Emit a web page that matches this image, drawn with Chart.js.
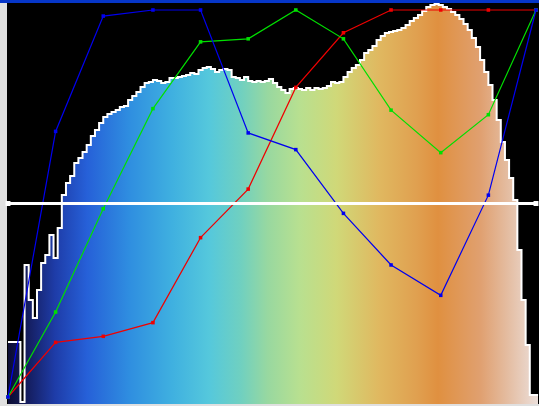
<!DOCTYPE html>
<html>
<head>
<meta charset="utf-8">
<script src="https://cdn.jsdelivr.net/npm/chart.js@4"></script>
<style>
  html, body { margin: 0; padding: 0; background: #e0e0e0; }
  #wrap { width: 539px; height: 406px; }
</style>
</head>
<body>
<div id="wrap"><canvas id="curveChart" width="539" height="406"></canvas></div>
<script>
// Curve control points (input level -> output level, 0..255)
const curveInputs = [0, 23, 46, 70, 93, 116, 139, 162, 185, 209, 232, 255];
const blueCurve  = [0, 175, 251, 255, 255, 174, 163, 121, 87, 67, 133, 255];
const greenCurve = [0, 56, 124, 190, 234, 236, 255, 236, 189, 161, 186, 255];
const redCurve   = [0, 36, 40, 49, 105, 137, 204, 240, 255, 255, 255, 255];

// Midtone guide line
const guideInputs = [0, 255];
const guideLevels = [127.5, 127.5];

// Luminance histogram, 128 bins of width 2 (relative counts)
const histBinWidth = 2;
const histCounts = [
  62, 62, 62, 62, 2, 139, 104, 86, 114, 141, 149, 169, 146, 176, 209, 221,
  228, 241, 246, 252, 259, 268, 274, 281, 287, 290, 292, 294, 297, 298, 304, 308,
  312, 317, 321, 322, 324, 323, 321, 322, 326, 326, 327, 328, 329, 331, 330, 334,
  336, 337, 335, 332, 334, 335, 334, 327, 326, 324, 327, 323, 322, 323, 322, 323,
  325, 321, 317, 314, 311, 315, 316, 315, 314, 316, 314, 316, 315, 316, 318, 322,
  321, 322, 327, 332, 336, 339, 344, 351, 354, 358, 364, 368, 371, 372, 373, 374,
  376, 379, 383, 386, 389, 393, 397, 399, 400, 399, 397, 395, 392, 389, 385, 380,
  374, 366, 357, 344, 332, 319, 304, 284, 262, 244, 226, 204, 154, 104, 59, 9
];

const histPoints = histCounts.map((c, i) => ({ x: i * histBinWidth, y: c }));
histPoints.push({ x: histCounts.length * histBinWidth, y: histCounts[histCounts.length - 1] });

function toPoints(xs, ys) {
  return xs.map((x, i) => ({ x: x, y: ys[i] }));
}

// Spectrum fill under the histogram
function histGradient(context) {
  const chart = context.chart;
  const area = chart.chartArea;
  if (!area) return '#3fb0e0';
  const g = chart.ctx.createLinearGradient(area.left, 0, area.right, 0);
  g.addColorStop(0.00, '#0a0a30');
  g.addColorStop(0.04, '#151e60');
  g.addColorStop(0.09, '#1e3ca8');
  g.addColorStop(0.15, '#2660d8');
  g.addColorStop(0.23, '#2f8ee0');
  g.addColorStop(0.31, '#3fb0e0');
  g.addColorStop(0.38, '#55c8dc');
  g.addColorStop(0.44, '#70d0c0');
  g.addColorStop(0.49, '#98d8a0');
  g.addColorStop(0.55, '#b8e090');
  g.addColorStop(0.62, '#d0d878');
  g.addColorStop(0.70, '#e0b860');
  g.addColorStop(0.77, '#e0a050');
  g.addColorStop(0.81, '#e09040');
  g.addColorStop(0.89, '#e0a070');
  g.addColorStop(0.94, '#e4bca0');
  g.addColorStop(1.00, '#ece0dc');
  return g;
}

// Panel background: grey frame, blue top bar, black plot
const panelBackground = {
  id: 'panelBackground',
  beforeDraw(chart) {
    const { ctx, chartArea, width, height } = chart;
    ctx.save();
    ctx.fillStyle = '#e0e0e0';
    ctx.fillRect(0, 0, width, height);
    ctx.fillStyle = '#0636c8';
    ctx.fillRect(0, 0, width, 3);
    ctx.fillStyle = '#000000';
    ctx.fillRect(chartArea.left, chartArea.top, chartArea.right - chartArea.left, chartArea.bottom - chartArea.top);
    ctx.restore();
  }
};

function curveDataset(label, color, values, order) {
  return {
    label: label,
    data: toPoints(curveInputs, values),
    borderColor: color,
    backgroundColor: color,
    borderWidth: 1.2,
    pointStyle: 'rect',
    pointRadius: 2.5,
    pointBorderWidth: 0,
    tension: 0,
    yAxisID: 'y',
    order: order,
    clip: false
  };
}

new Chart(document.getElementById('curveChart'), {
  type: 'line',
  data: {
    datasets: [
      {
        label: 'Midtone',
        data: toPoints(guideInputs, guideLevels),
        borderColor: '#ffffff',
        backgroundColor: '#ffffff',
        borderWidth: 3,
        pointStyle: 'rect',
        pointRadius: 3.5,
        pointBorderWidth: 0,
        yAxisID: 'y',
        order: 0,
        clip: false
      },
      curveDataset('Blue', '#0000f0', blueCurve, 1),
      curveDataset('Green', '#00e000', greenCurve, 2),
      curveDataset('Red', '#f00000', redCurve, 3),
      {
        label: 'Histogram',
        data: histPoints,
        stepped: 'after',
        borderColor: '#ffffff',
        borderWidth: 2,
        backgroundColor: histGradient,
        fill: 'origin',
        pointRadius: 0,
        yAxisID: 'yH',
        order: 10
      }
    ]
  },
  options: {
    responsive: false,
    animation: false,
    devicePixelRatio: 1,
    layout: { autoPadding: false, padding: { left: 7, top: 3, right: 0, bottom: 2 } },
    plugins: { legend: { display: false }, tooltip: { enabled: false } },
    scales: {
      x: { type: 'linear', min: -0.48, max: 256.45, display: false },
      y: { type: 'linear', min: -4.6, max: 259.6, display: false },
      yH: { type: 'linear', min: 0, max: 401, display: false }
    }
  },
  plugins: [panelBackground]
});
</script>
</body>
</html>
